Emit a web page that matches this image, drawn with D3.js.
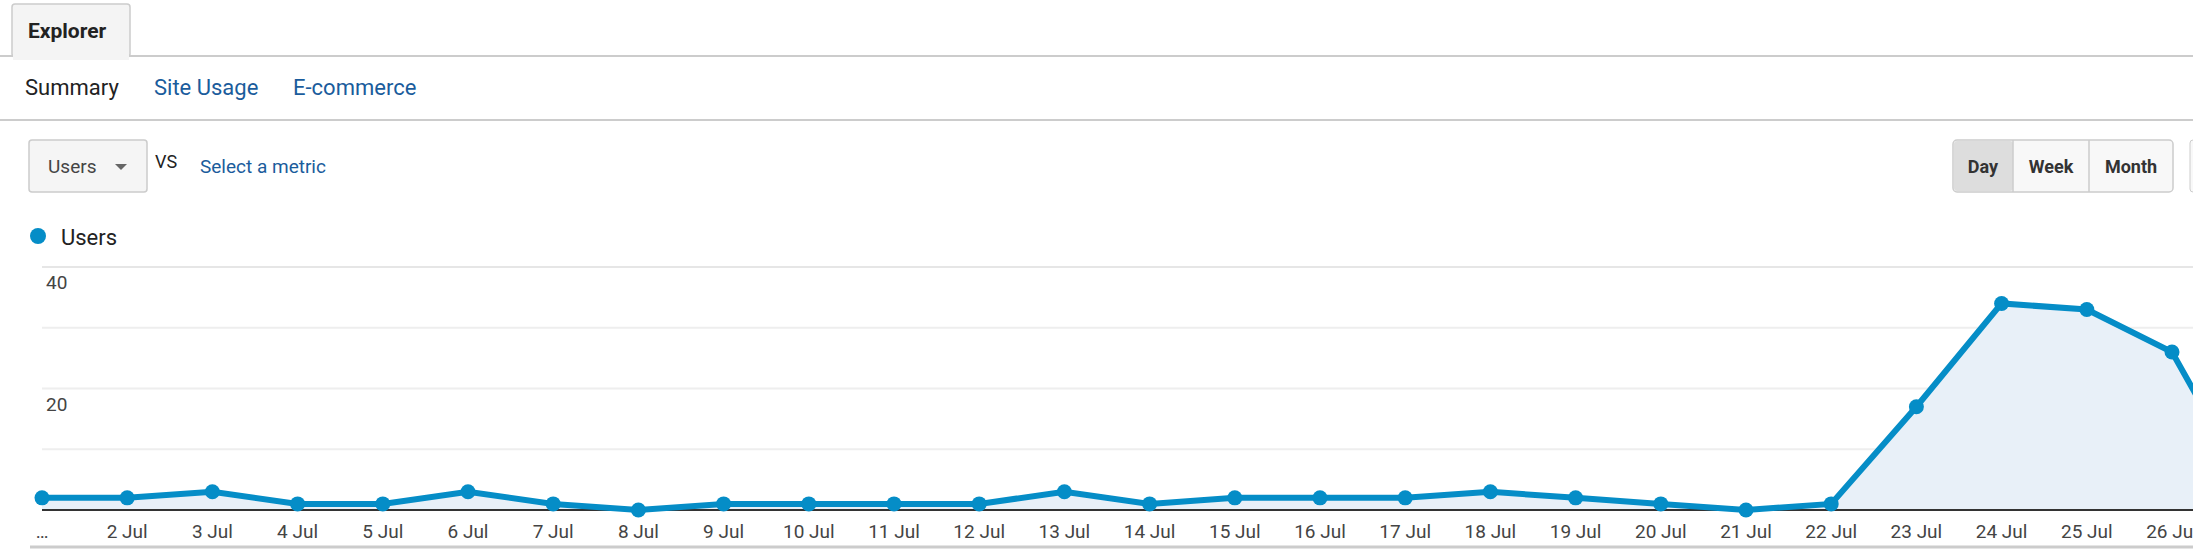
<!DOCTYPE html><html><head><meta charset="utf-8"><script src="https://cdn.jsdelivr.net/npm/d3@7"></script>
<style>body{margin:0;background:#fff;font-family:Roboto,Arial,sans-serif}</style></head><body><svg id="c" width="2193" height="549"></svg>
<script>
const days=["…","2 Jul","3 Jul","4 Jul","5 Jul","6 Jul","7 Jul","8 Jul","9 Jul","10 Jul","11 Jul","12 Jul","13 Jul","14 Jul","15 Jul","16 Jul","17 Jul","18 Jul","19 Jul","20 Jul","21 Jul","22 Jul","23 Jul","24 Jul","25 Jul","26 Jul","27 Jul"];
const users=[2,2,3,1,1,3,1,0,1,1,1,1,3,1,2,2,2,3,2,1,0,1,17,34,33,26,1];
const yTicks=[20,40];
const svg=d3.select("#c");
// header tabs
svg.append("line").attr("x1",0).attr("x2",2193).attr("y1",56).attr("y2",56).attr("stroke","#ccc").attr("stroke-width",2);
svg.append("rect").attr("x",12).attr("y",4).attr("width",118).attr("height",53).attr("rx",3).attr("fill","#f4f4f4").attr("stroke","#ccc").attr("stroke-width",1.5);
svg.append("rect").attr("x",13).attr("y",50).attr("width",116).attr("height",10).attr("fill","#f4f4f4");
svg.append("text").attr("x",28).attr("y",38).text("Explorer").attr("font-size",21).attr("font-weight","bold").attr("fill","#222");
[["Summary",25,"#222"],["Site Usage",154,"#1a5c9c"],["E-commerce",293,"#1a5c9c"]].forEach(([t,x,c])=>svg.append("text").attr("x",x).attr("y",95).text(t).attr("font-size",22).attr("fill",c));
svg.append("line").attr("x1",0).attr("x2",2193).attr("y1",120).attr("y2",120).attr("stroke","#ccc").attr("stroke-width",2);
svg.append("rect").attr("x",29).attr("y",140).attr("width",118).attr("height",52).attr("rx",3).attr("fill","#f5f5f5").attr("stroke","#ccc").attr("stroke-width",1.5);
svg.append("text").attr("x",48).attr("y",173).text("Users").attr("font-size",19).attr("fill","#444");
svg.append("path").attr("d","M115,164 l12,0 l-6,6z").attr("fill","#666");
svg.append("text").attr("x",155).attr("y",168).text("VS").attr("font-size",18).attr("fill","#222");
svg.append("text").attr("x",200).attr("y",173).text("Select a metric").attr("font-size",19).attr("fill","#1a5c9c");
// day/week/month
const bx=[1953,2013,2089,2173];
svg.append("rect").attr("x",1953).attr("y",140).attr("width",220).attr("height",52).attr("rx",4).attr("fill","#f8f8f8").attr("stroke","#ccc").attr("stroke-width",1.5);
svg.append("rect").attr("x",1954).attr("y",141).attr("width",59).attr("height",50).attr("rx",3).attr("fill","#ddd");
[2013,2089].forEach(x=>svg.append("line").attr("x1",x).attr("x2",x).attr("y1",140).attr("y2",192).attr("stroke","#ccc").attr("stroke-width",1.5));
[["Day",1983],["Week",2051],["Month",2131]].forEach(([t,x])=>svg.append("text").attr("x",x).attr("y",173).attr("text-anchor","middle").text(t).attr("font-size",18).attr("font-weight","bold").attr("fill","#333"));
svg.append("rect").attr("x",2190).attr("y",140).attr("width",10).attr("height",52).attr("rx",3).attr("fill","#f8f8f8").attr("stroke","#ccc");
// legend
svg.append("circle").attr("cx",38).attr("cy",236).attr("r",8).attr("fill","#058dc7");
svg.append("text").attr("x",61).attr("y",245).text("Users").attr("font-size",22).attr("fill","#222");
// chart
const x=d3.scalePoint().domain(days).range([42,42+85.2*26]);
const y=d3.scaleLinear().domain([0,40]).range([510,267]);
[10,20,30,40].forEach(v=>svg.append("line").attr("x1",42).attr("x2",2193).attr("y1",y(v)).attr("y2",y(v)).attr("stroke","#eee").attr("stroke-width",2));
svg.append("line").attr("x1",42).attr("x2",2193).attr("y1",267).attr("y2",267).attr("stroke","#e6e6e6").attr("stroke-width",2);
yTicks.forEach(v=>svg.append("text").attr("x",46).attr("y",y(v)+22).text(v).attr("font-size",19).attr("fill","#444"));
const data=days.map((d,i)=>({d,v:users[i]}));
svg.append("path").datum(data).attr("d",d3.area().x(p=>x(p.d)).y0(y(0)).y1(p=>y(p.v))).attr("fill","#e8f0f8");
svg.append("line").attr("x1",42).attr("x2",2193).attr("y1",510).attr("y2",510).attr("stroke","#333").attr("stroke-width",2);
svg.append("path").datum(data).attr("d",d3.line().x(p=>x(p.d)).y(p=>y(p.v))).attr("fill","none").attr("stroke","#058dc7").attr("stroke-width",6);
svg.selectAll("circle.p").data(data).join("circle").attr("class","p").attr("cx",p=>x(p.d)).attr("cy",p=>y(p.v)).attr("r",7.5).attr("fill","#058dc7");
svg.selectAll("text.xl").data(days).join("text").attr("class","xl").attr("x",d=>x(d)).attr("y",538).attr("text-anchor","middle").text(d=>d).attr("font-size",19).attr("fill","#444");
svg.append("line").attr("x1",30).attr("x2",2193).attr("y1",547).attr("y2",547).attr("stroke","#ccc").attr("stroke-width",3);
</script></body></html>
